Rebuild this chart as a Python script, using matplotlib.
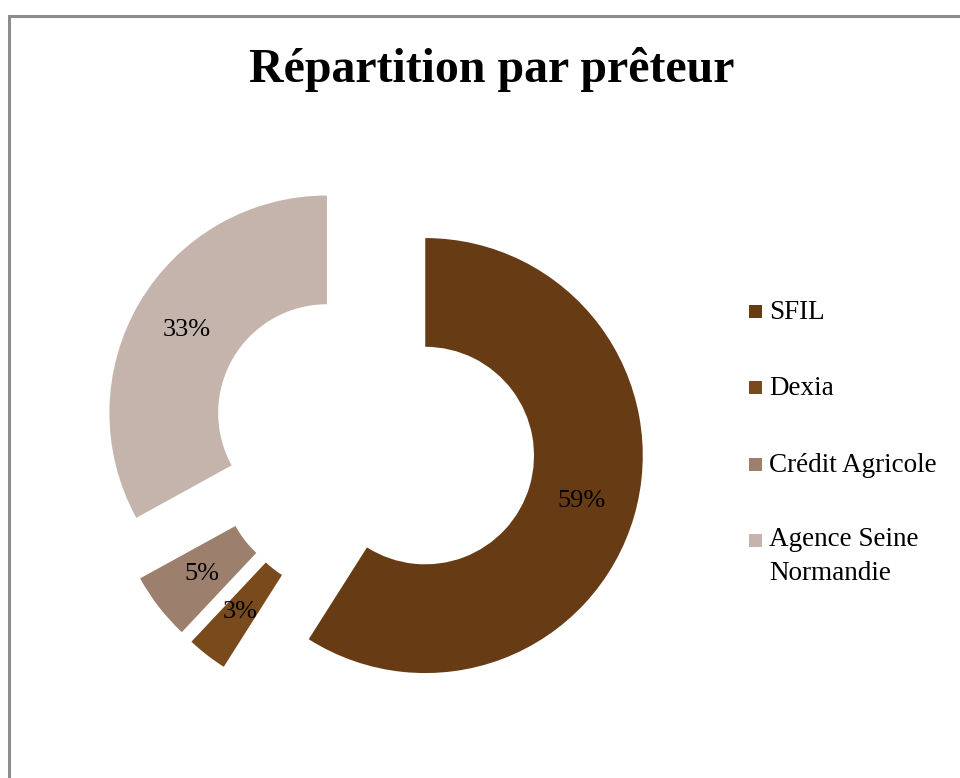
import matplotlib.pyplot as plt
from matplotlib.patches import Rectangle

# données
preteurs = ['SFIL', 'Dexia', 'Crédit Agricole', 'Agence Seine\nNormandie']
parts = [59, 3, 5, 33]
couleurs = ['#673C15', '#784A1C', '#9C7F6D', '#C4B4AC']

W, H = 960, 778
fig = plt.figure(figsize=(W / 100, H / 100), dpi=100)
ax = fig.add_axes([0, 0, 1, 1])

serif = ['Liberation Serif', 'DejaVu Serif']

# cadre gris (bord gauche et haut)
ax.plot([9, 9, W + 10], [-10, H - 16, H - 16], color='#8c8c8c', lw=2.2,
        clip_on=False, solid_joinstyle='miter')

# anneau éclaté (explode en unités de données pour pie)
R = 217.5
wedges, _, autotexts = ax.pie(parts, radius=R, center=(373.4, H - 440.5),
                              startangle=90, counterclock=False,
                              colors=couleurs, explode=[54] * len(parts),
                              wedgeprops=dict(width=R * 0.5, linewidth=0),
                              autopct='%1.0f%%', pctdistance=0.75,
                              textprops=dict(fontsize=19, family=serif, color='black'),
                              frame=True)
ax.set_xlim(0, W)
ax.set_ylim(0, H)
ax.set_aspect('equal')
ax.axis('off')

# titre
ax.text(492, H - 82, 'Répartition par prêteur', ha='center', va='baseline',
        fontsize=34.5, fontweight='bold', family=serif)

# légende
ycent = [311, 387, 464, 540]
for w, lab, y in zip(wedges, preteurs, ycent):
    ax.add_patch(Rectangle((749, H - y - 7), 13, 13, color=w.get_facecolor(), lw=0))
    nl = lab.count('\n')
    ax.text(769, H - y - 8 - 32 * nl, lab, ha='left', va='baseline', fontsize=19.5,
            family=serif, linespacing=1.45)

fig.savefig('out.png', dpi=100)
